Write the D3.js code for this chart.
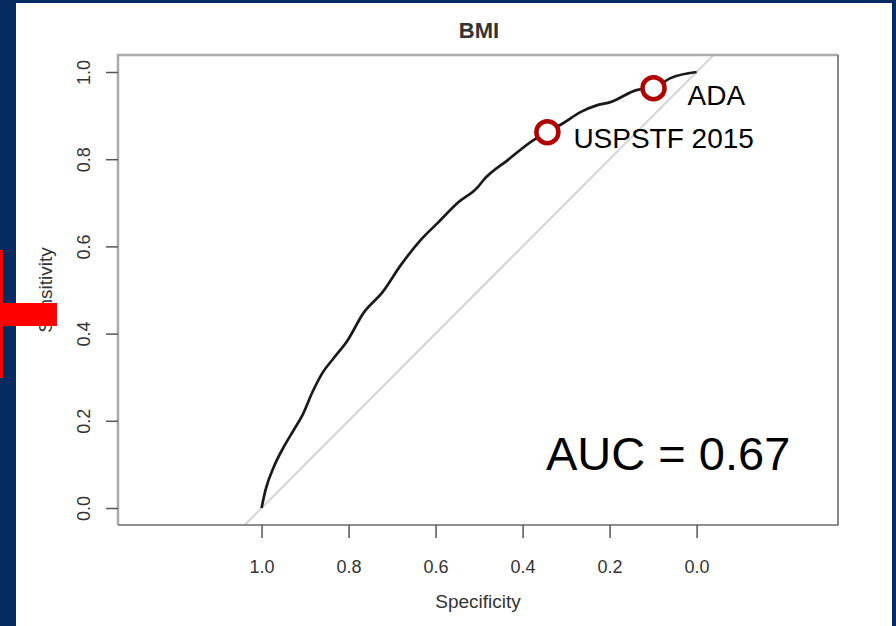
<!DOCTYPE html>
<html>
<head>
<meta charset="utf-8">
<script src="https://cdn.jsdelivr.net/npm/d3@7"></script>
<style>
  html, body { margin: 0; padding: 0; background: #062b63; }
  svg { display: block; }
</style>
</head>
<body>
<svg width="896" height="626"></svg>
<script>
// ROC curve (specificity, sensitivity)
var specificity = [1.0, 0.991, 0.972, 0.949, 0.926, 0.906, 0.883, 0.860, 0.834, 0.802, 0.766, 0.722, 0.680, 0.634, 0.595, 0.549, 0.503, 0.490, 0.434, 0.375, 0.343, 0.306, 0.267, 0.228, 0.198, 0.136, 0.099, 0.060, 0.0];
var sensitivity = [0.0, 0.041, 0.094, 0.140, 0.179, 0.213, 0.266, 0.310, 0.344, 0.385, 0.447, 0.495, 0.557, 0.615, 0.654, 0.700, 0.736, 0.752, 0.798, 0.844, 0.862, 0.883, 0.908, 0.924, 0.931, 0.959, 0.963, 0.986, 1.0];

var markerNames = ["ADA", "USPSTF 2015"];
var markerSpec = [0.099, 0.343];
var markerSens = [0.963, 0.862];

var xTicks = [1.0, 0.8, 0.6, 0.4, 0.2, 0.0];
var yTicks = [0.0, 0.2, 0.4, 0.6, 0.8, 1.0];
var aucText = "AUC = 0.67";

var svg = d3.select("svg");

// white slide panel
svg.append("rect").attr("x", 16).attr("y", 3).attr("width", 876).attr("height", 630).attr("fill", "#ffffff");

var plot = {left: 118, right: 838, top: 55, bottom: 525};

var x = d3.scaleLinear().domain([1.33, -0.325]).range([plot.left, plot.right]),
    y = d3.scaleLinear().domain([-0.039, 1.039]).range([plot.bottom, plot.top]);

var font = "'Liberation Sans', Arial, Helvetica, sans-serif";

// clip for diagonal
svg.append("clipPath").attr("id", "clip")
  .append("rect").attr("x", plot.left).attr("y", plot.top)
  .attr("width", plot.right - plot.left).attr("height", plot.bottom - plot.top);

// chance line
svg.append("line")
  .attr("clip-path", "url(#clip)")
  .attr("x1", x(1.039)).attr("y1", y(-0.039))
  .attr("x2", x(-0.039)).attr("y2", y(1.039))
  .attr("stroke", "#d4d4d4").attr("stroke-width", 2);

// the ROC curve
var rocData = specificity.map(function(s, i) { return [s, sensitivity[i]]; });
var line = d3.line()
  .curve(d3.curveMonotoneX)
  .x(function(d) { return x(d[0]); })
  .y(function(d) { return y(d[1]); });

svg.append("path")
  .datum(rocData)
  .attr("d", line)
  .attr("fill", "none")
  .attr("stroke", "#1a1a1a")
  .attr("stroke-width", 2.7)
  .attr("stroke-linejoin", "round");

// box
svg.append("path")
  .attr("d", "M" + plot.left + "," + plot.bottom + "V" + plot.top + "H" + plot.right)
  .attr("fill", "none").attr("stroke", "#aaaaaa").attr("stroke-width", 2.5);
svg.append("path")
  .attr("d", "M" + plot.right + "," + plot.top + "V" + plot.bottom + "H" + plot.left)
  .attr("fill", "none").attr("stroke", "#6a6a6a").attr("stroke-width", 1.6);

// axes
var gx = svg.append("g")
  .attr("transform", "translate(0," + plot.bottom + ")")
  .call(d3.axisBottom(x).tickValues(xTicks).tickFormat(d3.format(".1f")).tickSize(13).tickPadding(22));
var gy = svg.append("g")
  .attr("transform", "translate(" + plot.left + ",0)")
  .call(d3.axisLeft(y).tickValues(yTicks).tickFormat(d3.format(".1f")).tickSize(12));

[gx, gy].forEach(function(g) {
  g.select(".domain").remove();
  g.selectAll(".tick line").attr("stroke", "#555").attr("stroke-width", 1.5);
  g.selectAll(".tick text")
    .attr("fill", "#333")
    .style("font-family", font)
    .style("font-size", "18px");
});

// y tick labels rotated like R
gy.selectAll(".tick text")
  .attr("x", null).attr("dy", null)
  .attr("text-anchor", "middle")
  .attr("transform", "translate(-28,0) rotate(-90)");

// title and axis labels
svg.append("text")
  .attr("x", 479).attr("y", 38)
  .attr("text-anchor", "middle")
  .attr("fill", "#333")
  .style("font-family", font).style("font-size", "22px").style("font-weight", "bold")
  .text("BMI");

svg.append("text")
  .attr("x", 478).attr("y", 608)
  .attr("text-anchor", "middle")
  .attr("fill", "#333")
  .style("font-family", font).style("font-size", "19px")
  .text("Specificity");

svg.append("text")
  .attr("transform", "translate(52,290) rotate(-90)")
  .attr("text-anchor", "middle")
  .attr("fill", "#333")
  .style("font-family", font).style("font-size", "19px")
  .text("Sensitivity");

// markers
var mk = svg.selectAll(".marker")
  .data(markerNames)
  .enter().append("g")
  .attr("class", "marker");

mk.append("circle")
  .attr("cx", function(d, i) { return x(markerSpec[i]); })
  .attr("cy", function(d, i) { return y(markerSens[i]); })
  .attr("r", 11)
  .attr("fill", "#ffffff")
  .attr("stroke", "#b00000")
  .attr("stroke-width", 4.5);

mk.append("text")
  .attr("x", function(d, i) { return x(markerSpec[i]) + (i === 0 ? 34 : 26); })
  .attr("y", function(d, i) { return y(markerSens[i]) + (i === 0 ? 17 : 16); })
  .attr("fill", "#000")
  .style("font-family", font).style("font-size", "28px")
  .text(function(d) { return d; });

svg.append("text")
  .attr("x", 546).attr("y", 470)
  .attr("fill", "#000")
  .style("font-family", font).style("font-size", "47px")
  .text(aucText);

// red slide marker on left edge
svg.append("rect").attr("x", 0).attr("y", 250).attr("width", 3).attr("height", 128).attr("fill", "#ff0000");
svg.append("rect").attr("x", 0).attr("y", 303).attr("width", 57).attr("height", 23).attr("fill", "#ff0000");
</script>
</body>
</html>
